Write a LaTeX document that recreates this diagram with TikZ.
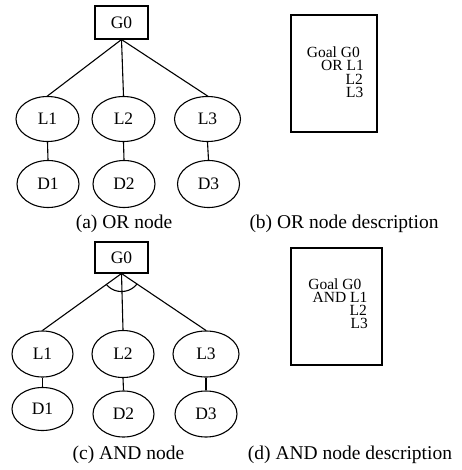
\documentclass[tikz,border=0pt]{standalone}
\usepackage{fontspec}
\setmainfont{Liberation Serif}
\usetikzlibrary{shapes.geometric}
\begin{document}
\begin{tikzpicture}[x=1pt,y=-1pt,
  every node/.style={font=\fontsize{17.5}{20}\selectfont},
  lnode/.style={draw, ellipse, inner sep=0pt, line width=1.1pt},
  gbox/.style={draw, rectangle, minimum width=53pt, minimum height=32pt, inner sep=0pt, line width=1.1pt},
  descbox/.style={draw, rectangle, inner sep=0pt, line width=1.1pt},
  desctext/.style={anchor=base east, font=\fontsize{15.5}{13.5}\selectfont, inner sep=0pt, text height=10pt, text depth=0pt},
  caption/.style={font=\fontsize{19.5}{22}\selectfont, inner sep=0pt},
  link/.style={line width=1.1pt}]
\useasboundingbox (0,0) rectangle (461,470);

% (a) OR node
\node[gbox, minimum height=33pt] (g0a) at (121.5,22.5) {G0};
\node[lnode, minimum width=63pt, minimum height=45pt] (l1a) at (47.5,119) {L1};
\node[lnode, minimum width=63pt, minimum height=45pt] (l2a) at (123.5,119) {L2};
\node[lnode, minimum width=66pt, minimum height=45pt] (l3a) at (207.5,119) {L3};
\node[lnode, minimum width=62pt, minimum height=47pt] (d1a) at (48,184) {D1};
\node[lnode, minimum width=62pt, minimum height=47pt] (d2a) at (124,184) {D2};
\node[lnode, minimum width=62pt, minimum height=47pt] (d3a) at (208.5,184) {D3};
\draw[link] (g0a.south) -- (l1a.north);
\draw[link] (g0a.south) -- (l2a.north);
\draw[link] (g0a.south) -- (l3a.north);
\draw[link] (l1a.south) -- (d1a.north);
\draw[link] (l2a.south) -- (d2a.north);
\draw[link] (l3a.south) -- (d3a.north);
\node[caption] (capa) at (124,224) {(a) OR node};

% (b) OR node description
\node[descbox, minimum width=86pt, minimum height=117pt] (boxb) at (334,73.5) {};
\node[desctext] (tb1) at (360,57.5) {Goal G0};
\node[desctext] (tb2) at (364,71) {OR L1};
\node[desctext] (tb3) at (363,84.5) {L2};
\node[desctext] (tb4) at (363.5,98) {L3};
\node[caption] (capb) at (344,224) {(b) OR node description};

% (c) AND node
\node[gbox, minimum height=31pt] (g0c) at (121.5,257.5) {G0};
\node[lnode, minimum width=61pt, minimum height=46pt] (l1c) at (42.5,354) {L1};
\node[lnode, minimum width=62pt, minimum height=47pt] (l2c) at (123,354) {L2};
\node[lnode, minimum width=66pt, minimum height=46pt] (l3c) at (206,354) {L3};
\node[lnode, minimum width=61pt, minimum height=43pt] (d1c) at (42.5,409) {D1};
\node[lnode, minimum width=61pt, minimum height=46pt] (d2c) at (123.5,414) {D2};
\node[lnode, minimum width=62pt, minimum height=46pt] (d3c) at (206,414) {D3};
\draw[link] (g0c.south) -- (l1c.north);
\draw[link] (g0c.south) -- (l2c.north);
\draw[link] (g0c.south) -- (l3c.north);
\draw[link] (l1c.south) -- (d1c.north);
\draw[link] (l2c.south) -- (d2c.north);
\draw[link] (l3c.south) -- (d3c.north);
\begin{scope}
  \clip (g0c.south) -- (l1c.north) -- (l3c.north) -- cycle;
  \draw[link] (g0c.south) ellipse [x radius=19, y radius=18];
\end{scope}
\node[caption] (capc) at (128.5,455) {(c) AND node};

% (d) AND node description
\node[descbox, minimum width=91pt, minimum height=117pt] (boxd) at (336.5,306.5) {};
\node[desctext] (td1) at (361.5,289.5) {Goal G0};
\node[desctext] (td2) at (367.5,302.5) {AND L1};
\node[desctext] (td3) at (367,315.5) {L2};
\node[desctext] (td4) at (368,328.5) {L3};
\node[caption] (capd) at (350,455) {(d) AND node description};
\end{tikzpicture}
\end{document}
